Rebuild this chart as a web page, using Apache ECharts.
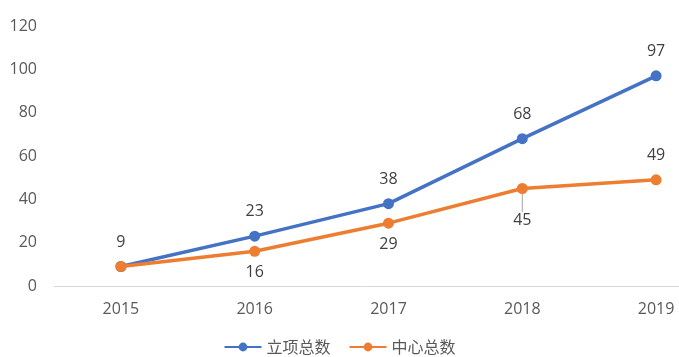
<!DOCTYPE html>
<html><head><meta charset="utf-8">
<script src="https://cdn.jsdelivr.net/npm/echarts@6/dist/echarts.min.js"></script>
<style>html,body{margin:0;padding:0;background:#fff}#c{width:679px;height:357px}</style>
</head><body><div id="c"></div>
<script>
const categories = ['2015','2016','2017','2018','2019'];
const projectTotals = [9, 23, 38, 68, 97];
const centerTotals = [9, 16, 29, 45, 49];
const centerLabelPos = ['none','bottom','bottom','bottom','top'];
const yTicks = [0, 20, 40, 60, 80, 100, 120];

const font = '"Open Sans","Noto Sans CJK SC",sans-serif';
const chart = echarts.init(document.getElementById('c'));
chart.setOption({
  animation: false,
  textStyle: {fontFamily: font},
  grid: {left: 54, top: 26, width: 669, height: 260, outerBoundsMode: 'none', containLabel: false},
  legend: {
    top: 334, left: 'center', itemWidth: 37, itemHeight: 11, itemGap: 18,
    textStyle: {fontSize: 16, color: '#595959', fontFamily: '"Noto Sans CJK SC",sans-serif'},
    data: ['立项总数','中心总数']
  },
  xAxis: {
    type: 'category', data: categories, boundaryGap: true,
    axisLine: {lineStyle: {color: '#d9d9d9', width: 1}},
    axisTick: {show: false},
    axisLabel: {color: '#595959', fontSize: 16, margin: 15}
  },
  yAxis: {
    type: 'value', min: yTicks[0], max: yTicks[yTicks.length-1], interval: 20,
    axisLine: {show: false}, axisTick: {show: false}, splitLine: {show: false},
    axisLabel: {color: '#595959', fontSize: 16, margin: 17}
  },
  series: [
    {
      name: '立项总数', type: 'line', data: projectTotals,
      symbol: 'circle', symbolSize: 11, z: 2,
      lineStyle: {width: 3.5, color: '#4472C4'}, itemStyle: {color: '#4472C4'},
      label: {show: true, position: 'top', distance: 11, color: '#404040', fontSize: 16}
    },
    {
      name: '中心总数', type: 'line', z: 3,
      data: centerTotals.map((v, i) => {
        if (centerLabelPos[i] === 'none') return {value: v, label: {show: false}};
        const item = {value: v, label: {show: true, position: centerLabelPos[i], distance: centerLabelPos[i]==='bottom' ? 8 : 11}};
        if (i === 3) item.labelLine = {show: true, lineStyle: {color: '#a6a6a6', width: 1}};
        return item;
      }),
      labelLayout: function (p) { return p.dataIndex === 3 ? {dy: 10} : {}; },
      symbol: 'circle', symbolSize: 11,
      lineStyle: {width: 3.5, color: '#ED7D31'}, itemStyle: {color: '#ED7D31'},
      label: {show: true, color: '#404040', fontSize: 16}
    }
  ]
});
</script></body></html>
